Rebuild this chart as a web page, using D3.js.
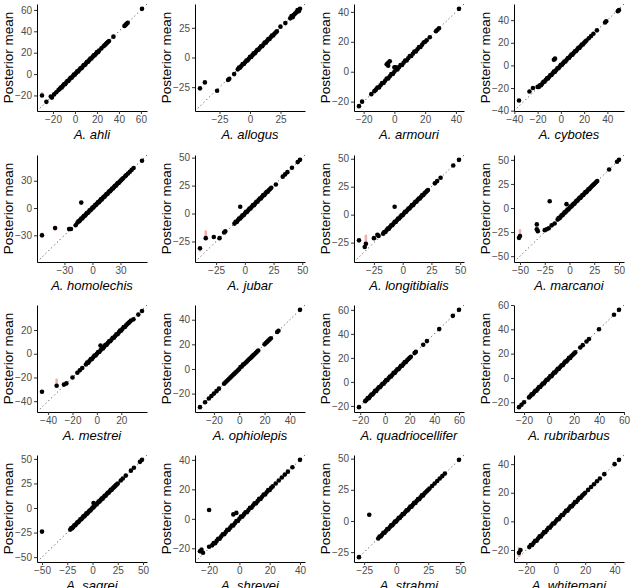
<!DOCTYPE html>
<html><head><meta charset="utf-8">
<script src="https://cdn.jsdelivr.net/npm/d3@7"></script>
<style>body{margin:0;background:#fff}svg{display:block}</style>
</head><body>
<svg id="chart" width="631" height="588"></svg>
<script>
// ---- data: [observed, posterior mean] ----
const species = ["A. ahli","A. allogus","A. armouri","A. cybotes","A. homolechis","A. jubar","A. longitibialis","A. marcanoi","A. mestrei","A. ophiolepis","A. quadriocellifer","A. rubribarbus","A. sagrei","A. shrevei","A. strahmi","A. whitemani"];

const ahli = [[-30,-20],[-26,-26],[-22,-21],[-21,-22],[-19,-19],[-17,-17],[-15,-15],[-14,-14],[-13,-12.5],[-12,-12.5],[-11,-11],[-10,-9.5],[-9,-9.5],[-8,-8],[-7,-6.5],[-6,-6.5],[-5,-5],[-4,-3.5],[-3,-3.5],[-2,-2],[-1,-0.5],[0,-0.5],[1,1],[2,2.5],[3,2.5],[4,4],[5,5.5],[6,5.5],[7,7],[8,8.5],[9,8.5],[10,10],[11,11.5],[12,11.5],[13,13],[14,14.5],[15,14.5],[16,16],[17,17.5],[18,17.5],[19,19],[20,20.5],[21,20.5],[22,22],[24,24],[26,26],[27,27],[28,28],[29,29],[30,30],[31,31],[35,35],[45,45],[46,46],[47,47],[48,48],[61,61]];
const ahliErr = [[-30,-21,-17]];

const allogus = [[-41,-26],[-37,-21],[-27,-28],[-18,-19],[-17,-18],[-13,-14],[-10,-10],[-9,-8.5],[-8,-8.5],[-7,-7],[-6,-5.5],[-5,-5.5],[-4,-4],[-3,-2.5],[-2,-2.5],[-1,-1],[0,0.5],[1,0.5],[2,2],[3,3.5],[4,3.5],[5,5],[6,6.5],[7,6.5],[8,8],[9,9.5],[10,9.5],[11,11],[12,12.5],[13,12.5],[14,14],[15,15.5],[16,15.5],[17,17],[18,18.5],[19,18.5],[20,20],[21,21],[22,22],[25,26],[29,29],[33,33],[34,35],[35,34],[36,36],[37,37],[38,38],[39,40],[40,39],[41,41]];
const allogusErr = [];

const armouri = [[-23,-23],[-21,-20],[-15,-15],[-13,-13],[-12,-12],[-11,-10.5],[-10,-10.5],[-9,-9],[-8,-7.5],[-7,-7.5],[-6,-6],[-5,-4.5],[-4,-4.5],[-3,-3],[-2,-1.5],[-1,-1.5],[0,0],[1,1.5],[2,1.5],[3,3],[4,4.5],[5,4.5],[6,6],[7,7.5],[8,7.5],[9,9],[10,10.5],[11,10.5],[12,12],[13,13.5],[14,13.5],[15,15],[16,16.5],[17,16.5],[18,18],[19,19.5],[20,20],[21,21],[23,23],[27,27],[28,28],[29,29],[42,42],[-5,5],[-4,6],[-3,7],[-4,4],[0,3],[1,3]];
const armouriErr = [];

const cybotes = [[-36,-31],[-27,-23],[-24,-20],[-20,-19],[-19,-19],[-18,-17.5],[-17,-17.5],[-16,-16],[-15,-14.5],[-14,-14.5],[-13,-13],[-12,-11.5],[-11,-11.5],[-10,-10],[-9,-8.5],[-8,-8.5],[-7,-7],[-6,-5.5],[-5,-5.5],[-4,-4],[-3,-2.5],[-2,-2.5],[-1,-1],[0,0.5],[1,0.5],[2,2],[3,3.5],[4,3.5],[5,5],[6,6.5],[7,6.5],[8,8],[9,9.5],[10,9.5],[11,11],[12,12.5],[13,12.5],[14,14],[15,15.5],[16,15.5],[17,17],[18,18.5],[19,18.5],[20,20],[21,21],[22,22],[24,24],[26,26],[28,28],[31,31],[38,38],[39,39],[49,48],[50,49],[-6,5],[-5,6]];
const cybotesErr = [];

const homolechis = [[-54,-30],[-40,-22],[-25,-23],[-24,-23],[-23,-23],[-18,-19],[-16,-16],[-15,-14.5],[-14,-14.5],[-13,-13],[-12,-11.5],[-11,-11.5],[-10,-10],[-9,-8.5],[-8,-8.5],[-7,-7],[-6,-5.5],[-5,-5.5],[-4,-4],[-3,-2.5],[-2,-2.5],[-1,-1],[0,0.5],[1,0.5],[2,2],[3,3.5],[4,3.5],[5,5],[6,6.5],[7,6.5],[8,8],[9,9.5],[10,9.5],[11,11],[12,12.5],[13,12.5],[14,14],[15,15.5],[16,15.5],[17,17],[18,18.5],[19,18.5],[20,20],[21,21.5],[22,21.5],[23,23],[24,24.5],[25,24.5],[26,26],[27,27.5],[28,27.5],[29,29],[30,30],[31,31],[32,32],[33,33],[35,35],[36,36],[38,38],[40,40],[42,42],[44,44],[53,52],[-12,6]];
const homolechisErr = [[-54,-33,-27],[-40,-25,-20],[-25,-25,-21]];

const jubar = [[-39,-31],[-34,-22],[-27,-21],[-22,-22],[-18,-17],[-17,-16],[-9,-9],[-8,-7.5],[-7,-7.5],[-6,-6],[-5,-4.5],[-4,-4.5],[-3,-3],[-2,-1.5],[-1,-1.5],[0,0],[1,1.5],[2,1.5],[3,3],[4,4.5],[5,4.5],[6,6],[7,7.5],[8,7.5],[9,9],[10,10.5],[11,10.5],[12,12],[13,13.5],[14,13.5],[15,15],[16,16.5],[17,16.5],[18,18],[19,19.5],[20,19.5],[21,21],[22,22],[23,23],[27,26],[33,33],[35,35],[37,37],[41,41],[46,46],[48,48],[-4,6]];
const jubarErr = [[-39,-34,-31],[-34,-22,-15]];

const longitibialis = [[-38,-23],[-33,-29],[-32,-26],[-25,-21],[-22,-18],[-21,-19],[-17,-17],[-16,-15.5],[-15,-15.5],[-14,-14],[-13,-12.5],[-12,-12.5],[-11,-11],[-10,-9.5],[-9,-9.5],[-8,-8],[-7,-6.5],[-6,-6.5],[-5,-5],[-4,-3.5],[-3,-3.5],[-2,-2],[-1,-0.5],[0,-0.5],[1,1],[2,2.5],[3,2.5],[4,4],[5,5.5],[6,5.5],[7,7],[8,8.5],[9,8.5],[10,10],[11,11.5],[12,11.5],[13,13],[14,14.5],[15,14.5],[16,16],[17,17.5],[18,17.5],[19,19],[20,20],[21,21],[22,22],[28,28],[30,30],[33,33],[44,44],[49,49],[-7,7]];
const longitibialisErr = [[-32,-28,-18]];

const marcanoi = [[-51,-31],[-50,-29],[-33,-17],[-33,-22],[-32,-24],[-25,-23],[-23,-22],[-21,-21],[-18,-18],[-15,-16],[-12,-12],[-11,-10.5],[-10,-10.5],[-9,-9],[-8,-7.5],[-7,-7.5],[-6,-6],[-5,-4.5],[-4,-4.5],[-3,-3],[-2,-1.5],[-1,-1.5],[0,0],[1,1.5],[2,1.5],[3,3],[4,4.5],[5,4.5],[6,6],[7,7.5],[8,7.5],[9,9],[10,10.5],[11,10.5],[12,12],[13,13.5],[14,13.5],[15,15],[16,16.5],[17,16.5],[18,18],[19,19.5],[20,19.5],[21,21],[22,22],[23,23],[24,24],[25,25],[26,26],[27,27],[28,28],[40,40],[48,48],[50,50],[-20,7],[-3,4]];
const marcanoiErr = [[-50,-33,-22]];

const mestrei = [[-45,-32],[-33,-27],[-27,-26],[-25,-25],[-20,-20],[-16,-16],[-14,-14],[-12,-12],[-9,-9],[-8,-7.5],[-7,-7.5],[-6,-6],[-5,-4.5],[-4,-4.5],[-3,-3],[-2,-1.5],[-1,-1.5],[0,0],[1,1.5],[2,1.5],[3,3],[4,4.5],[5,4.5],[6,6],[7,7.5],[8,7.5],[9,9],[10,10.5],[11,10.5],[12,12],[13,13.5],[14,13.5],[15,15],[16,16.5],[17,16.5],[18,18],[19,19.5],[20,19.5],[21,21],[22,22.5],[23,22.5],[24,24],[25,25],[26,26],[27,27],[28,28],[30,29],[34,33],[37,36],[3,7]];
const mestreiErr = [[-33,-27,-21]];

const ophiolepis = [[-31,-31],[-27,-27],[-24,-24],[-22,-22],[-20,-20],[-18,-18],[-16,-16],[-12,-12],[-11,-11],[-10,-10],[-9,-9],[-8,-8],[-7,-7],[-6,-6],[-5,-5],[-4,-4],[-3,-3],[-2,-2],[-1,-1],[0,0],[1,1.5],[2,2],[3,3.5],[4,4],[5,5],[6,6],[7,7],[8,8],[9,9],[10,10],[11,11],[12,12],[13,13],[14,14],[15,15],[20,20],[21,21],[22,22],[23,23],[24,24],[25,25],[30,30],[31,31],[48,48]];
const ophiolepisErr = [];

const quadriocellifer = [[-21,-21],[-16,-16],[-15,-15],[-14,-13.5],[-13,-13.5],[-12,-12],[-11,-10.5],[-10,-10.5],[-9,-9],[-8,-7.5],[-7,-7.5],[-6,-6],[-5,-4.5],[-4,-4.5],[-3,-3],[-2,-1.5],[-1,-1.5],[0,0],[1,1.5],[2,1.5],[3,3],[4,4.5],[5,4.5],[6,6],[7,7.5],[8,7.5],[9,9],[10,10.5],[11,10.5],[12,12],[13,13.5],[14,13.5],[15,15],[16,16.5],[17,16.5],[18,18],[19,19],[20,20],[21,21],[24,24],[25,25],[31,31],[34,34],[44,44],[55,55],[60,60]];
const quadriocelliferErr = [];

const rubribarbus = [[-24,-24],[-22,-22],[-20,-20],[-16,-16],[-15,-15],[-14,-13.5],[-13,-13.5],[-12,-12],[-11,-10.5],[-10,-10.5],[-9,-9],[-8,-7.5],[-7,-7.5],[-6,-6],[-5,-4.5],[-4,-4.5],[-3,-3],[-2,-1.5],[-1,-1.5],[0,0],[1,1.5],[2,1.5],[3,3],[4,4.5],[5,4.5],[6,6],[7,7.5],[8,7.5],[9,9],[10,10.5],[11,10.5],[12,12],[13,13.5],[14,13.5],[15,15],[16,16.5],[17,16.5],[18,18],[19,19],[20,20],[21,21],[25,25],[27,27],[30,30],[32,32],[40,40],[52,52],[56,56]];
const rubribarbusErr = [];

const sagrei = [[-50,-24],[-22,-22],[-21,-20.5],[-20,-20.5],[-19,-19],[-18,-17.5],[-17,-17.5],[-16,-16],[-15,-14.5],[-14,-14.5],[-13,-13],[-12,-11.5],[-11,-11.5],[-10,-10],[-9,-8.5],[-8,-8.5],[-7,-7],[-6,-5.5],[-5,-5.5],[-4,-4],[-3,-2.5],[-2,-2.5],[-1,-1],[0,0.5],[1,0.5],[2,2],[3,3.5],[4,3.5],[5,5],[6,6.5],[7,6.5],[8,8],[9,9.5],[10,9.5],[11,11],[12,12.5],[13,12.5],[14,14],[15,15.5],[16,15.5],[17,17],[18,18.5],[19,18.5],[20,20],[21,21],[22,22],[23,23],[24,24],[25,25],[28,28],[30,30],[33,33],[38,38],[41,41],[47,47],[49,49],[1,5]];
const sagreiErr = [[-50,-26,-23]];

const shrevei = [[-26,-22],[-25,-21],[-24,-23],[-20,-19],[-18,-18],[-17,-16.5],[-16,-16.5],[-15,-15],[-14,-13.5],[-13,-13.5],[-12,-12],[-11,-10.5],[-10,-10.5],[-9,-9],[-8,-7.5],[-7,-7.5],[-6,-6],[-5,-4.5],[-4,-4.5],[-3,-3],[-2,-1.5],[-1,-1.5],[0,0],[1,1.5],[2,1.5],[3,3],[4,4.5],[5,4.5],[6,6],[7,7.5],[8,7.5],[9,9],[10,10.5],[11,10.5],[12,12],[13,13.5],[14,13.5],[15,15],[16,16.5],[17,16.5],[18,18],[19,19.5],[20,19.5],[21,21],[22,22],[24,24],[26,26],[28,28],[30,30],[32,32],[35,35],[40,40],[-20,6],[-4,3],[-2,4]];
const shreveiErr = [[-25,-24,-19]];

const strahmi = [[-29,-29],[-14,-14],[-13,-12.5],[-12,-12.5],[-11,-11],[-10,-9.5],[-9,-9.5],[-8,-8],[-7,-6.5],[-6,-6.5],[-5,-5],[-4,-3.5],[-3,-3.5],[-2,-2],[-1,-0.5],[0,-0.5],[1,1],[2,2.5],[3,2.5],[4,4],[5,5.5],[6,5.5],[7,7],[8,8.5],[9,8.5],[10,10],[11,11.5],[12,11.5],[13,13],[14,14.5],[15,14.5],[16,16],[17,17.5],[18,17.5],[19,19],[20,20.5],[21,20.5],[22,22],[23,23],[24,24],[25,25],[26,26],[28,28],[30,30],[32,32],[34,34],[36,36],[38,38],[49,49],[-21,5]];
const strahmiErr = [];

const whitemani = [[-24,-20],[-25,-22],[-18,-18],[-17,-16.5],[-16,-16.5],[-15,-15],[-14,-13.5],[-13,-13.5],[-12,-12],[-11,-10.5],[-10,-10.5],[-9,-9],[-8,-7.5],[-7,-7.5],[-6,-6],[-5,-4.5],[-4,-4.5],[-3,-3],[-2,-1.5],[-1,-1.5],[0,0],[1,1.5],[2,1.5],[3,3],[4,4.5],[5,4.5],[6,6],[7,7.5],[8,7.5],[9,9],[10,10.5],[11,10.5],[12,12],[13,13.5],[14,13.5],[15,15],[16,16.5],[17,16.5],[18,18],[19,19],[20,20],[22,22],[24,24],[26,26],[28,28],[30,30],[33,33],[40,40],[43,43]];
const whitemaniErr = [[-25,-25,-18]];

// tick labels per panel (same on both axes)
const ahliTicks = [-20,0,20,40,60];
const allogusTicks = [-25,0,25];
const armouriTicks = [-20,0,20,40];
const cybotesTicks = [-40,-20,0,20,40];
const homolechisTicks = [-30,0,30];
const jubarTicks = [-25,0,25,50];
const longitibialisTicks = [-25,0,25,50];
const marcanoiTicks = [-50,-25,0,25,50];
const mestreiTicks = [-40,-20,0,20];
const ophiolepisTicks = [-20,0,20,40];
const quadriocelliferTicks = [-20,0,20,40,60];
const rubribarbusTicks = [-20,0,20,40,60];
const sagreiTicks = [-50,-25,0,25,50];
const shreveiTicks = [-20,0,20,40];
const strahmiTicks = [-25,0,25,50];
const whitemaniTicks = [-20,0,20,40];

const pointSets = [ahli,allogus,armouri,cybotes,homolechis,jubar,longitibialis,marcanoi,mestrei,ophiolepis,quadriocellifer,rubribarbus,sagrei,shrevei,strahmi,whitemani];
const errSets = [ahliErr,allogusErr,armouriErr,cybotesErr,homolechisErr,jubarErr,longitibialisErr,marcanoiErr,mestreiErr,ophiolepisErr,quadriocelliferErr,rubribarbusErr,sagreiErr,shreveiErr,strahmiErr,whitemaniErr];
const tickSets = [ahliTicks,allogusTicks,armouriTicks,cybotesTicks,homolechisTicks,jubarTicks,longitibialisTicks,marcanoiTicks,mestreiTicks,ophiolepisTicks,quadriocelliferTicks,rubribarbusTicks,sagreiTicks,shreveiTicks,strahmiTicks,whitemaniTicks];

// ---- layout ----
const svg = d3.select("#chart");
const FONT = "'Liberation Sans', Arial, Helvetica, sans-serif";
const colLeft = [37,195,354,514];
const rowTop = [4,155,305,455];
const W = 110, H = 107;

species.forEach((name, i) => {
  const L = colLeft[i % 4], T = rowTop[Math.floor(i / 4)];
  const pts = pointSets[i], errs = errSets[i], ticks = tickSets[i];
  const vals = [];
  pts.forEach(p => { vals.push(p[0], p[1]); });
  errs.forEach(e => { vals.push(e[1], e[2]); });
  const [lo, hi] = d3.extent(vals);
  const pad = (hi - lo) * 0.05;
  const dom = [lo - pad, hi + pad];
  const x = d3.scaleLinear().domain(dom).range([L, L + W]);
  const y = d3.scaleLinear().domain(dom).range([T + H, T]);
  const g = svg.append("g");

  // identity line
  g.append("line")
    .attr("x1", x(dom[0])).attr("y1", y(dom[0]))
    .attr("x2", x(dom[1])).attr("y2", y(dom[1]))
    .attr("stroke", "#333").attr("stroke-width", 1)
    .attr("stroke-dasharray", "1,3");

  // error bars
  g.selectAll("line.err").data(errs).enter().append("line").attr("class", "err")
    .attr("x1", d => x(d[0])).attr("x2", d => x(d[0]))
    .attr("y1", d => y(d[1])).attr("y2", d => y(d[2]))
    .attr("stroke", "#ee8a8a").attr("stroke-opacity", 0.7).attr("stroke-width", 2.5);

  // points
  g.selectAll("circle").data(pts).enter().append("circle")
    .attr("cx", d => x(d[0])).attr("cy", d => y(d[1]))
    .attr("r", 2.3).attr("fill", "#000");

  // axes
  const ax = g.append("g").attr("transform", `translate(0,${T + H})`)
    .call(d3.axisBottom(x).tickValues(ticks).tickSize(3).tickSizeOuter(0).tickPadding(2));
  const ay = g.append("g").attr("transform", `translate(${L},0)`)
    .call(d3.axisLeft(y).tickValues(ticks).tickSize(3).tickSizeOuter(0).tickPadding(2));
  [ax, ay].forEach(a => {
    a.select(".domain").attr("stroke", "#000").attr("stroke-width", 1);
    a.selectAll(".tick line").attr("stroke", "#333");
    a.selectAll(".tick text").attr("font-size", 10).attr("font-family", FONT).attr("fill", "#4d4d4d");
  });

  // titles
  g.append("text").attr("x", L + W / 2).attr("y", T + H + 28)
    .attr("text-anchor", "middle").attr("font-style", "italic")
    .attr("font-size", 13).attr("font-family", FONT).attr("fill", "#000").text(name);
  g.append("text")
    .attr("transform", `translate(${L - 29},${T + H / 2}) rotate(-90)`)
    .attr("text-anchor", "middle").attr("dy", "0.35em")
    .attr("font-size", 13.5).attr("font-family", FONT).attr("fill", "#000").text("Posterior mean");
});
</script>
</body></html>
